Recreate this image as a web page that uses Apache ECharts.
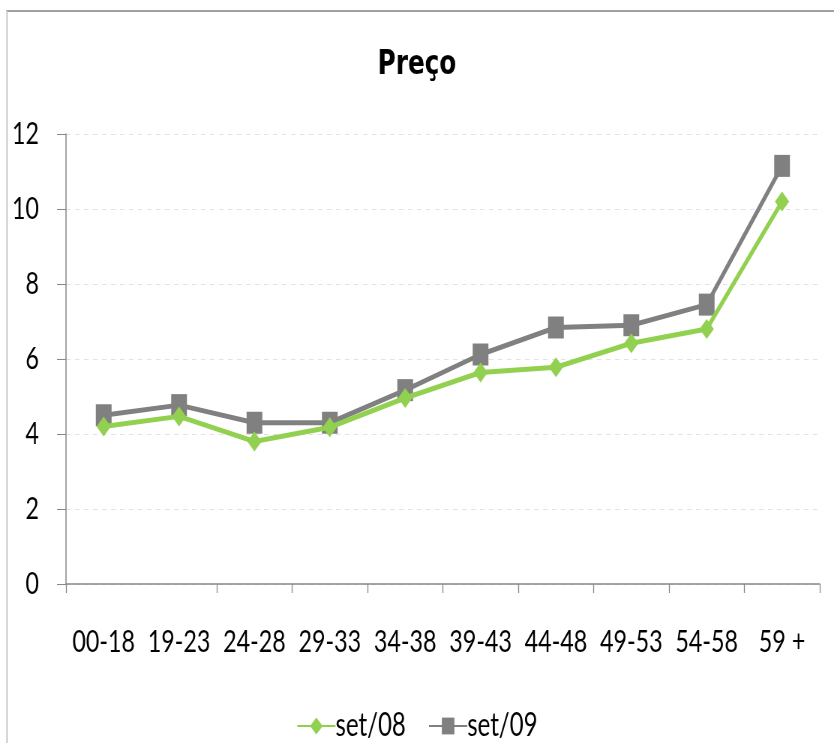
<!DOCTYPE html>
<html>
<head>
<meta charset="utf-8">
<script src="https://cdn.jsdelivr.net/npm/echarts@6/dist/echarts.min.js"></script>
<style>
html,body{margin:0;padding:0;background:#fff;overflow:hidden;}
#wrap{position:absolute;left:0;top:0;width:834px;height:743px;overflow:hidden;}
#chart{position:absolute;left:0;top:0;width:1112px;height:743px;transform:scaleX(0.75);transform-origin:0 0;}
#frame{position:absolute;left:6px;top:10px;width:840px;height:760px;border-top:2px solid #a0a0a0;border-left:2px solid #d8d8d8;pointer-events:none;}
</style>
</head>
<body>
<div id="wrap"><div id="chart"></div></div>
<div id="frame"></div>
<script>
const categories = ['00-18','19-23','24-28','29-33','34-38','39-43','44-48','49-53','54-58','59 +'];
const set08 = [4.2, 4.47, 3.8, 4.18, 4.96, 5.64, 5.78, 6.42, 6.8, 10.2];
const set09 = [4.5, 4.77, 4.3, 4.3, 5.17, 6.12, 6.84, 6.9, 7.45, 11.15];
const yTicks = [0, 2, 4, 6, 8, 10, 12];
const titleText = 'Preço';
const seriesNames = ['set/08', 'set/09'];

const font = 'Lato, "Open Sans", sans-serif';
const chart = echarts.init(document.getElementById('chart'));
chart.setOption({
  animation: false,
  backgroundColor: 'transparent',
  title: {
    text: titleText, left: 'center', top: 44,
    textStyle: {fontFamily: '"DejaVu Sans", sans-serif', fontWeight: 'bold', fontSize: 33, color: '#000'}
  },
  legend: {
    bottom: -4, left: 'center', itemWidth: 51, itemHeight: 21, itemGap: 30,
    textStyle: {fontFamily: font, fontSize: 32, color: '#000', padding: [0,0,0,-5]},
    data: seriesNames
  },
  grid: {left: 88, right: 19, top: 134, bottom: 159},
  xAxis: {
    type: 'category', data: categories, boundaryGap: true,
    axisLine: {lineStyle: {color: '#888', width: 1.5}},
    axisTick: {show: true, length: 9, lineStyle: {color: '#888', width: 1.3}, interval: function (i) { return i !== 1; }},
    axisLabel: {fontFamily: font, fontSize: 31, color: '#000', margin: 42, interval: 0}
  },
  yAxis: {
    type: 'value', min: yTicks[0], max: yTicks[yTicks.length-1], interval: 2,
    axisLine: {show: true, lineStyle: {color: '#888', width: 1.5}},
    axisTick: {show: true, length: 12, lineStyle: {color: '#888'}},
    axisLabel: {fontFamily: font, fontSize: 31, color: '#000', margin: 36},
    splitLine: {show: true, lineStyle: {color: '#e2e2e2', type: [6,6]}}
  },
  series: [
    {
      name: seriesNames[0], type: 'line', data: set08,
      symbol: 'diamond', symbolSize: [19, 20], showAllSymbol: true,
      lineStyle: {color: '#92D050', width: 5},
      itemStyle: {color: '#92D050'}, z: 3
    },
    {
      name: seriesNames[1], type: 'line', data: set09,
      symbol: 'rect', symbolSize: [21, 22], showAllSymbol: true,
      lineStyle: {color: '#808080', width: 5},
      itemStyle: {color: '#808080'}, z: 2
    }
  ]
});
</script>
</body>
</html>
